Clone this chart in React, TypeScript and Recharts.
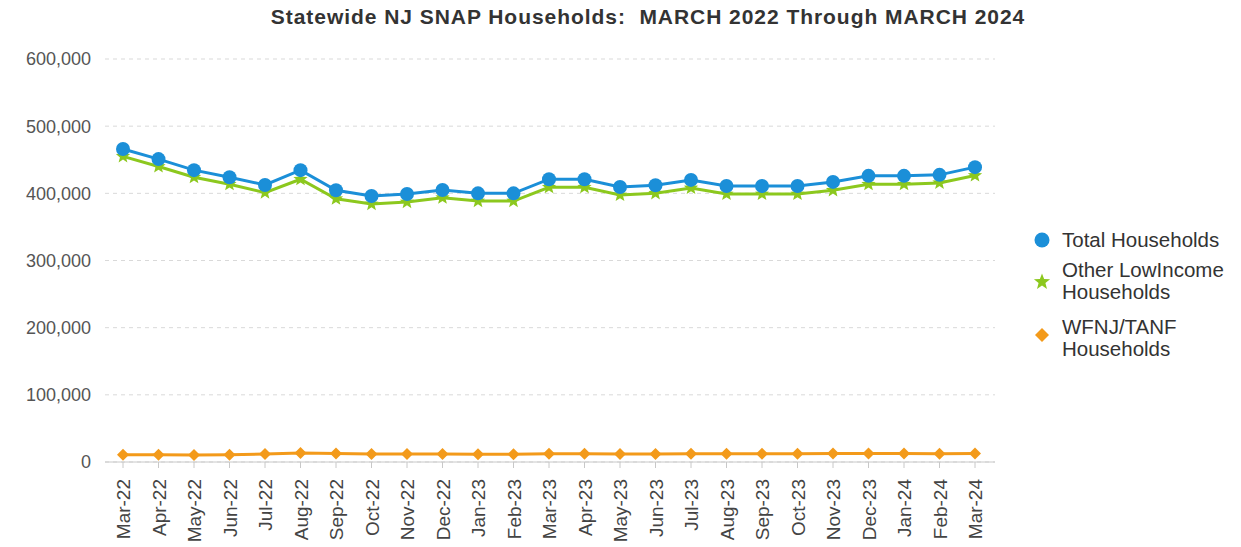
// NJ SNAP households line chart, Mar-22 .. Mar-24
import { CartesianGrid, Line, LineChart, XAxis, YAxis } from 'recharts'

const MONTHS = [
  'Mar-22', 'Apr-22', 'May-22', 'Jun-22', 'Jul-22', 'Aug-22', 'Sep-22', 'Oct-22', 'Nov-22',
  'Dec-22', 'Jan-23', 'Feb-23', 'Mar-23', 'Apr-23', 'May-23', 'Jun-23', 'Jul-23', 'Aug-23',
  'Sep-23', 'Oct-23', 'Nov-23', 'Dec-23', 'Jan-24', 'Feb-24', 'Mar-24',
]

const TOTAL = [
  466000, 451000, 434500, 424000, 412500, 434500, 404500, 396000, 399000, 405000, 400000, 400000,
  421000, 421000, 409500, 412000, 420000, 411000, 411000, 411000, 417000, 426000, 426000, 427500, 439000,
]

const OTHER = [
  455000, 440000, 424000, 413500, 401000, 421000, 392000, 384000, 387000, 393500, 388500, 388500,
  409000, 409000, 397500, 400000, 408000, 399000, 399000, 399000, 404500, 413500, 413500, 415500, 426500,
]

const TANF = [
  10800, 10700, 10600, 10700, 11800, 13500, 12500, 12000, 11800, 11800, 11700, 11600,
  12200, 12300, 12000, 12000, 12300, 12200, 12200, 12300, 12500, 12800, 12600, 12400, 12500,
]

const Y_TICKS = [0, 100000, 200000, 300000, 400000, 500000, 600000]

const COLORS = {
  total: '#1b8fd8',
  other: '#8cc81e',
  tanf: '#f39a1a',
}

const FONT = 'Arial, "Liberation Sans", Helvetica, sans-serif'

const data = MONTHS.map((m, i) => ({ month: m, total: TOTAL[i], other: OTHER[i], tanf: TANF[i] }))

function starPath(cx: number, cy: number, outer: number, inner: number) {
  let d = ''
  for (let i = 0; i < 10; i++) {
    const r = i % 2 === 0 ? outer : inner
    const a = -Math.PI / 2 + (i * Math.PI) / 5
    d += `${i === 0 ? 'M' : 'L'}${cx + r * Math.cos(a)},${cy + r * Math.sin(a)}`
  }
  return d + 'Z'
}

const CircleDot = (props: any) => (
  <circle key={props.index} cx={props.cx} cy={props.cy} r={7} fill={COLORS.total} />
)

const StarDot = (props: any) => (
  <path key={props.index} d={starPath(props.cx, props.cy, 7.5, 3.2)} fill={COLORS.other} />
)

const DiamondDot = (props: any) => {
  const { cx, cy } = props
  return (
    <path key={props.index} d={`M${cx},${cy - 6}L${cx + 6},${cy}L${cx},${cy + 6}L${cx - 6},${cy}Z`} fill={COLORS.tanf} />
  )
}

const MonthTick = (props: any) => {
  const { x, y, payload } = props
  return (
    <g transform={`translate(${x},${y})`}>
      <text transform="rotate(-90)" x={-9} y={7} textAnchor="end" fontSize={19} fill="#444" fontFamily={FONT}>
        {payload.value}
      </text>
    </g>
  )
}

const legendText = { position: 'absolute', left: 1062, lineHeight: '22px', fontSize: 20.5, color: '#333' } as const

export default function App() {
  return (
    <div style={{ position: 'absolute', left: 0, top: 0, width: 1241, height: 547, background: '#fff', fontFamily: FONT }}>
      <div
        style={{
          position: 'absolute',
          top: 5,
          left: 0,
          width: 1296,
          textAlign: 'center',
          fontFamily: FONT,
          fontWeight: 'bold',
          fontSize: 21,
          letterSpacing: 0.95,
          color: '#333',
          whiteSpace: 'pre',
        }}
      >
        {'Statewide NJ SNAP Households:  MARCH 2022 Through MARCH 2024'}
      </div>
      <LineChart width={1241} height={547} data={data} margin={{ top: 59, right: 246, bottom: 0, left: 0 }}>
        <CartesianGrid vertical={false} stroke="#d9d9d9" strokeDasharray="4 4" />
        <XAxis
          dataKey="month"
          interval={0}
          height={85}
          padding={{ left: 18, right: 20 }}
          stroke="#c8c8c8"
          tickSize={6}
          tick={<MonthTick />}
        />
        <YAxis
          width={105}
          domain={[0, 600000]}
          ticks={Y_TICKS}
          axisLine={false}
          tickLine={false}
          tickFormatter={(v: number) => v.toLocaleString('en-US')}
          tick={{ fontSize: 18, fill: '#555', fontFamily: FONT, dx: -6 }}
        />
        <Line
          dataKey="tanf"
          stroke={COLORS.tanf}
          strokeWidth={3}
          dot={<DiamondDot />}
          activeDot={false}
          isAnimationActive={false}
        />
        <Line
          dataKey="other"
          stroke={COLORS.other}
          strokeWidth={3}
          dot={<StarDot />}
          activeDot={false}
          isAnimationActive={false}
        />
        <Line
          dataKey="total"
          stroke={COLORS.total}
          strokeWidth={3}
          dot={<CircleDot />}
          activeDot={false}
          isAnimationActive={false}
        />
      </LineChart>
      <svg width={30} height={140} style={{ position: 'absolute', left: 1030, top: 220 }}>
        <circle cx={12} cy={20} r={7.5} fill={COLORS.total} />
        <path d={starPath(12, 62, 8.5, 3.6)} fill={COLORS.other} />
        <path d="M12,108L19,115L12,122L5,115Z" fill={COLORS.tanf} />
      </svg>
      <div style={{ ...legendText, top: 229 }}>Total Households</div>
      <div style={{ ...legendText, top: 259 }}>
        Other LowIncome
        <br />
        Households
      </div>
      <div style={{ ...legendText, top: 316 }}>
        WFNJ/TANF
        <br />
        Households
      </div>
    </div>
  )
}
